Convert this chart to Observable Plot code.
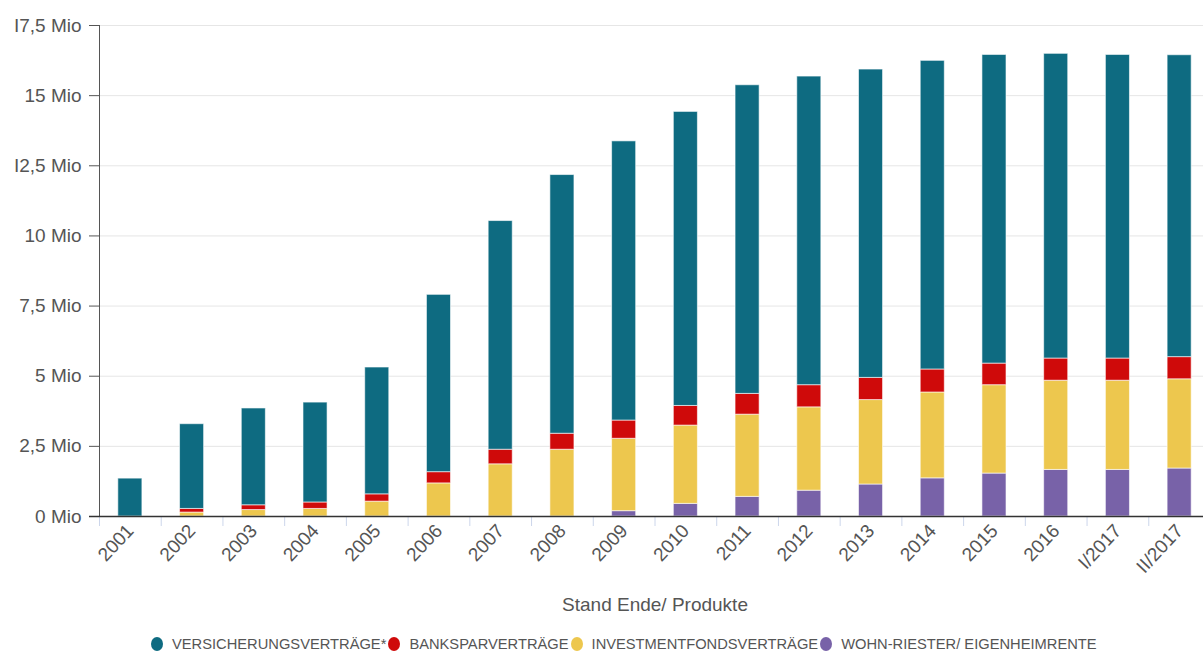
<!DOCTYPE html>
<html>
<head>
<meta charset="utf-8">
<script src="https://cdn.jsdelivr.net/npm/d3@7"></script>
<script src="https://cdn.jsdelivr.net/npm/@observablehq/plot@0.6"></script>
<style>
  html, body { margin: 0; padding: 0; background: #fff; overflow: hidden; }
  body { font-family: "Liberation Sans", Arial, sans-serif; }
  #legend { display: flex; align-items: center; margin-left: 151px; height: 24px; line-height: 24px;
            font-size: 14.7px; color: #555; white-space: nowrap; }
  .item { display: flex; align-items: center; margin-right: 2px; }
  .dot { width: 12px; height: 14px; border-radius: 50%; margin-right: 9px; flex: none; }
</style>
</head>
<body>
<div id="chart"></div>
<div id="legend"></div>
<script>
// Categories (x axis)
const categories = ["2001","2002","2003","2004","2005","2006","2007","2008","2009","2010","2011","2012","2013","2014","2015","2016","I/2017","II/2017"];

// Series names (legend order)
const seriesNames = ["VERSICHERUNGSVERTRÄGE*", "BANKSPARVERTRÄGE", "INVESTMENTFONDSVERTRÄGE", "WOHN-RIESTER/ EIGENHEIMRENTE"];
const seriesColors = ["#0e6b81", "#cf0a0a", "#edc74e", "#7862a8"];

// Values in millions
const versicherung = [1.35, 3.02, 3.45, 3.56, 4.52, 6.32, 8.15, 9.22, 9.95, 10.48, 11.00, 11.00, 10.99, 11.00, 11.00, 10.86, 10.82, 10.76];
const banksparen   = [0,    0.13, 0.17, 0.23, 0.26, 0.40, 0.52, 0.57, 0.65, 0.70, 0.74, 0.79, 0.79, 0.82, 0.77, 0.79, 0.79, 0.79];
const investment   = [0,    0.14, 0.23, 0.27, 0.53, 1.18, 1.86, 2.38, 2.58, 2.79, 2.93, 2.97, 3.01, 3.06, 3.15, 3.18, 3.18, 3.18];
const wohnriester  = [0,    0,    0,    0,    0,    0,    0,    0,    0.19, 0.45, 0.70, 0.92, 1.14, 1.36, 1.53, 1.66, 1.66, 1.71];

// Y ticks
const yTicks = [0, 2.5, 5, 7.5, 10, 12.5, 15, 17.5];
const yTickLabels = ["0 Mio", "2,5 Mio", "5 Mio", "7,5 Mio", "10 Mio", "I2,5 Mio", "15 Mio", "I7,5 Mio"];

const xTitle = "Stand Ende/ Produkte";

// Build tidy data; stacking bottom -> top: Wohn, Invest, Bank, Vers
const seriesValues = [versicherung, banksparen, investment, wohnriester];
const data = [];
for (const si of [3, 2, 1, 0]) {
  categories.forEach((c, i) => data.push({cat: c, series: seriesNames[si], value: seriesValues[si][i]}));
}

const width = 1203, height = 632;
const marginLeft = 99, marginRight = -7, marginTop = 25, marginBottom = 116;
const step = (width - marginLeft - marginRight) / categories.length;

const chart = Plot.plot({
  width, height, marginLeft, marginRight, marginTop, marginBottom,
  style: {fontFamily: "'Liberation Sans', Arial, sans-serif", background: "#fff", overflow: "hidden"},
  x: {domain: categories, paddingInner: 0.61, paddingOuter: 0.305, round: false, label: null},
  y: {domain: [0, 17.5], label: null},
  color: {domain: seriesNames, range: seriesColors},
  marks: [
    Plot.gridY(yTicks, {stroke: "#e6e6e6", strokeOpacity: 1}),
    Plot.barY(data, {x: "cat", y: "value", fill: "series", order: [seriesNames[3], seriesNames[2], seriesNames[1], seriesNames[0]],
      stroke: "#ffffff", strokeOpacity: 0.6, strokeWidth: 1}),
    Plot.axisX({tickSize: 10, tickFormat: () => "", dx: -step / 2, stroke: "#ccd6eb", label: null}),
    Plot.axisX({tickSize: 0, tickRotate: -47, tickPadding: 11, fontSize: 19, fill: "#555", label: null}),
    Plot.axisY({ticks: yTicks, tickFormat: (d) => yTickLabels[yTicks.indexOf(d)], tickSize: 10, tickPadding: 8,
      fontSize: 19, stroke: "#555", fill: "#555", label: null}),
    Plot.frame({anchor: "left", stroke: "#555"}),
    Plot.ruleY([0], {stroke: "#333", strokeWidth: 1.5, insetLeft: -10}),
    Plot.text([xTitle], {frameAnchor: "bottom", lineAnchor: "middle", dy: 88, fontSize: 19, fill: "#555"})
  ]
});
document.getElementById("chart").appendChild(chart);

const legend = document.getElementById("legend");
seriesNames.forEach((name, i) => {
  const item = document.createElement("div");
  item.className = "item";
  const dot = document.createElement("span");
  dot.className = "dot";
  dot.style.background = seriesColors[i];
  const label = document.createElement("span");
  label.textContent = name;
  item.appendChild(dot);
  item.appendChild(label);
  legend.appendChild(item);
});
</script>
</body>
</html>
